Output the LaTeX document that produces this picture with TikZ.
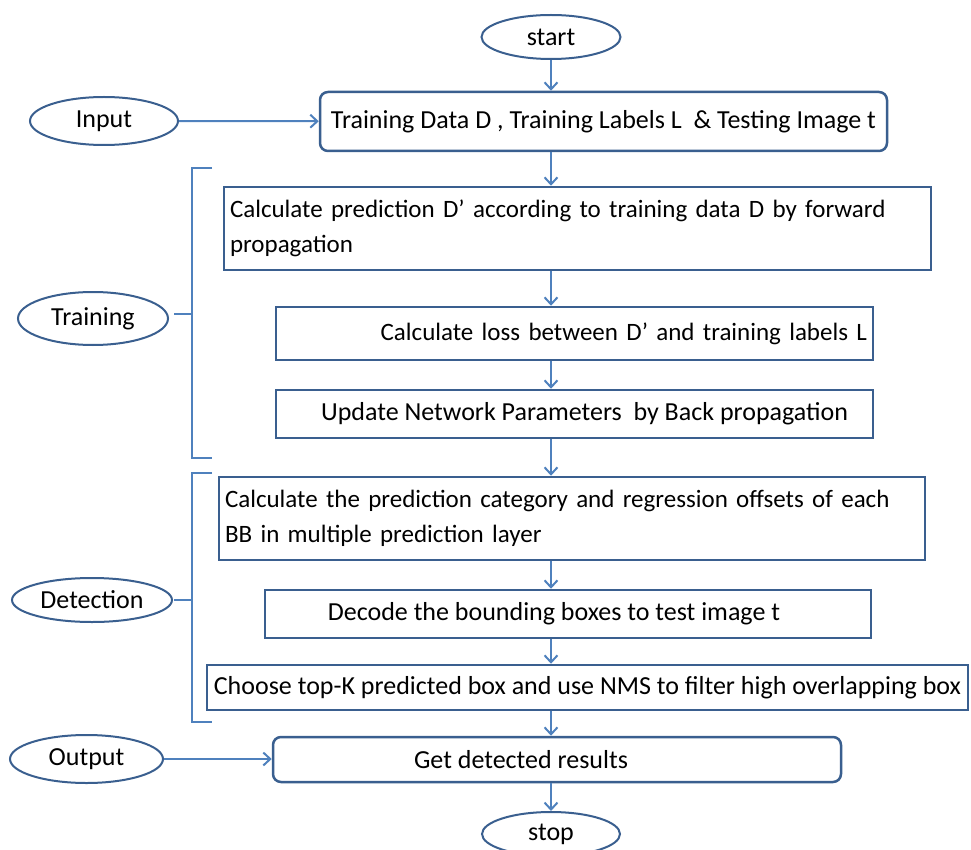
\documentclass[tikz,border=0pt]{standalone}
\usepackage{fontspec}
\setmainfont{Carlito}
\usetikzlibrary{arrows.meta,shapes.geometric}

\definecolor{boxblue}{HTML}{3A5F8F}
\definecolor{lineblue}{HTML}{4F81BD}

\tikzset{
  stepbox/.style={draw=boxblue, line width=2.5pt, fill=white, font=\fontsize{26}{35}\selectfont,
    minimum height=#1, inner xsep=6pt, inner ysep=0pt},
  stepbox/.default=48pt,
  smalltext/.style={font=\fontsize{25}{35}\selectfont},
  termnode/.style={draw=boxblue, ellipse, line width=2pt, inner sep=0pt, font=\fontsize{26}{30}\selectfont},
  flow/.style={draw=lineblue, line width=2pt, -{Straight Barb[length=7pt,width=13pt,line width=2pt]}},
  brace/.style={draw=lineblue, line width=1.5pt}
}

\begin{document}
\begin{tikzpicture}[x=1pt,y=-1pt]
\useasboundingbox (0,0) rectangle (971,850);
\node[termnode, minimum width=139pt, minimum height=44pt] (start) at (551,37) {start};
\node[termnode, minimum width=148pt, minimum height=48pt] (input) at (104,121) {Input};
\node[stepbox=59pt, rounded corners=8pt, minimum width=567pt] (data) at (603.5,121.5) {Training Data D , Training Labels L \ \& Testing Image t};
\node[stepbox=83pt, smalltext, text width=695pt, align=left] (pred) at (577.5,228.5) {Calculate prediction D’ according to training data D by forward\\propagation};
\node[stepbox=53pt, smalltext, text width=585pt, align=right] (loss) at (574.5,333.5) {Calculate loss between D’ and training labels L};
\node[stepbox, minimum width=597pt] (update) at (574.5,414) {\hspace*{20pt}Update Network Parameters \ by Back propagation};
\node[stepbox=83pt, smalltext, text width=694pt, align=left] (cat) at (572,518.5) {Calculate the prediction category and regression offsets of each\\BB in multiple prediction layer};
\node[stepbox, minimum width=606pt] (decode) at (568,614) {Decode the bounding boxes to test image t\hspace*{28pt}};
\node[stepbox=45pt, minimum width=761pt, inner xsep=4pt] (nms) at (587.5,687.5) {Choose top-K predicted box and use NMS to filter high overlapping box};
\node[stepbox=45pt, rounded corners=8pt, minimum width=568pt] (result) at (557,759.5) {Get detected results\hspace*{72pt}};
\node[termnode, minimum width=138pt, minimum height=44pt] (stop) at (551,834) {stop};
\node[termnode, minimum width=150pt, minimum height=53pt] (training) at (93,318.5) {Training};
\node[termnode, minimum width=160pt, minimum height=44pt] (detection) at (92,600) {Detection};
\node[termnode, minimum width=153pt, minimum height=48pt] (output) at (86.5,759) {Output};

% brackets
\path[brace] (212,168) -- (192,168) -- (192,458) -- (212,458);
\path[brace] (212,473) -- (192,473) -- (192,722) -- (212,722);
\coordinate (tb) at (192,314);
\coordinate (db) at (192,600);
\path[brace] (tb) -- (174,314);
\path[brace] (db) -- (174,600);

% flow
\path[flow] (start) -- (start |- data.north);
\path[flow] (input) -- (data);
\path[flow] (start |- data.south) -- (start |- pred.north);
\path[flow] (start |- pred.south) -- (start |- loss.north);
\path[flow] (start |- loss.south) -- (start |- update.north);
\path[flow] (start |- update.south) -- (start |- cat.north);
\path[flow] (start |- cat.south) -- (start |- decode.north);
\path[flow] (start |- decode.south) -- (start |- nms.north);
\path[flow] (start |- nms.south) -- (start |- result.north);
\path[flow] (output) -- (output -| result.west);
\path[flow] (start |- result.south) -- (stop);
\end{tikzpicture}
\end{document}
